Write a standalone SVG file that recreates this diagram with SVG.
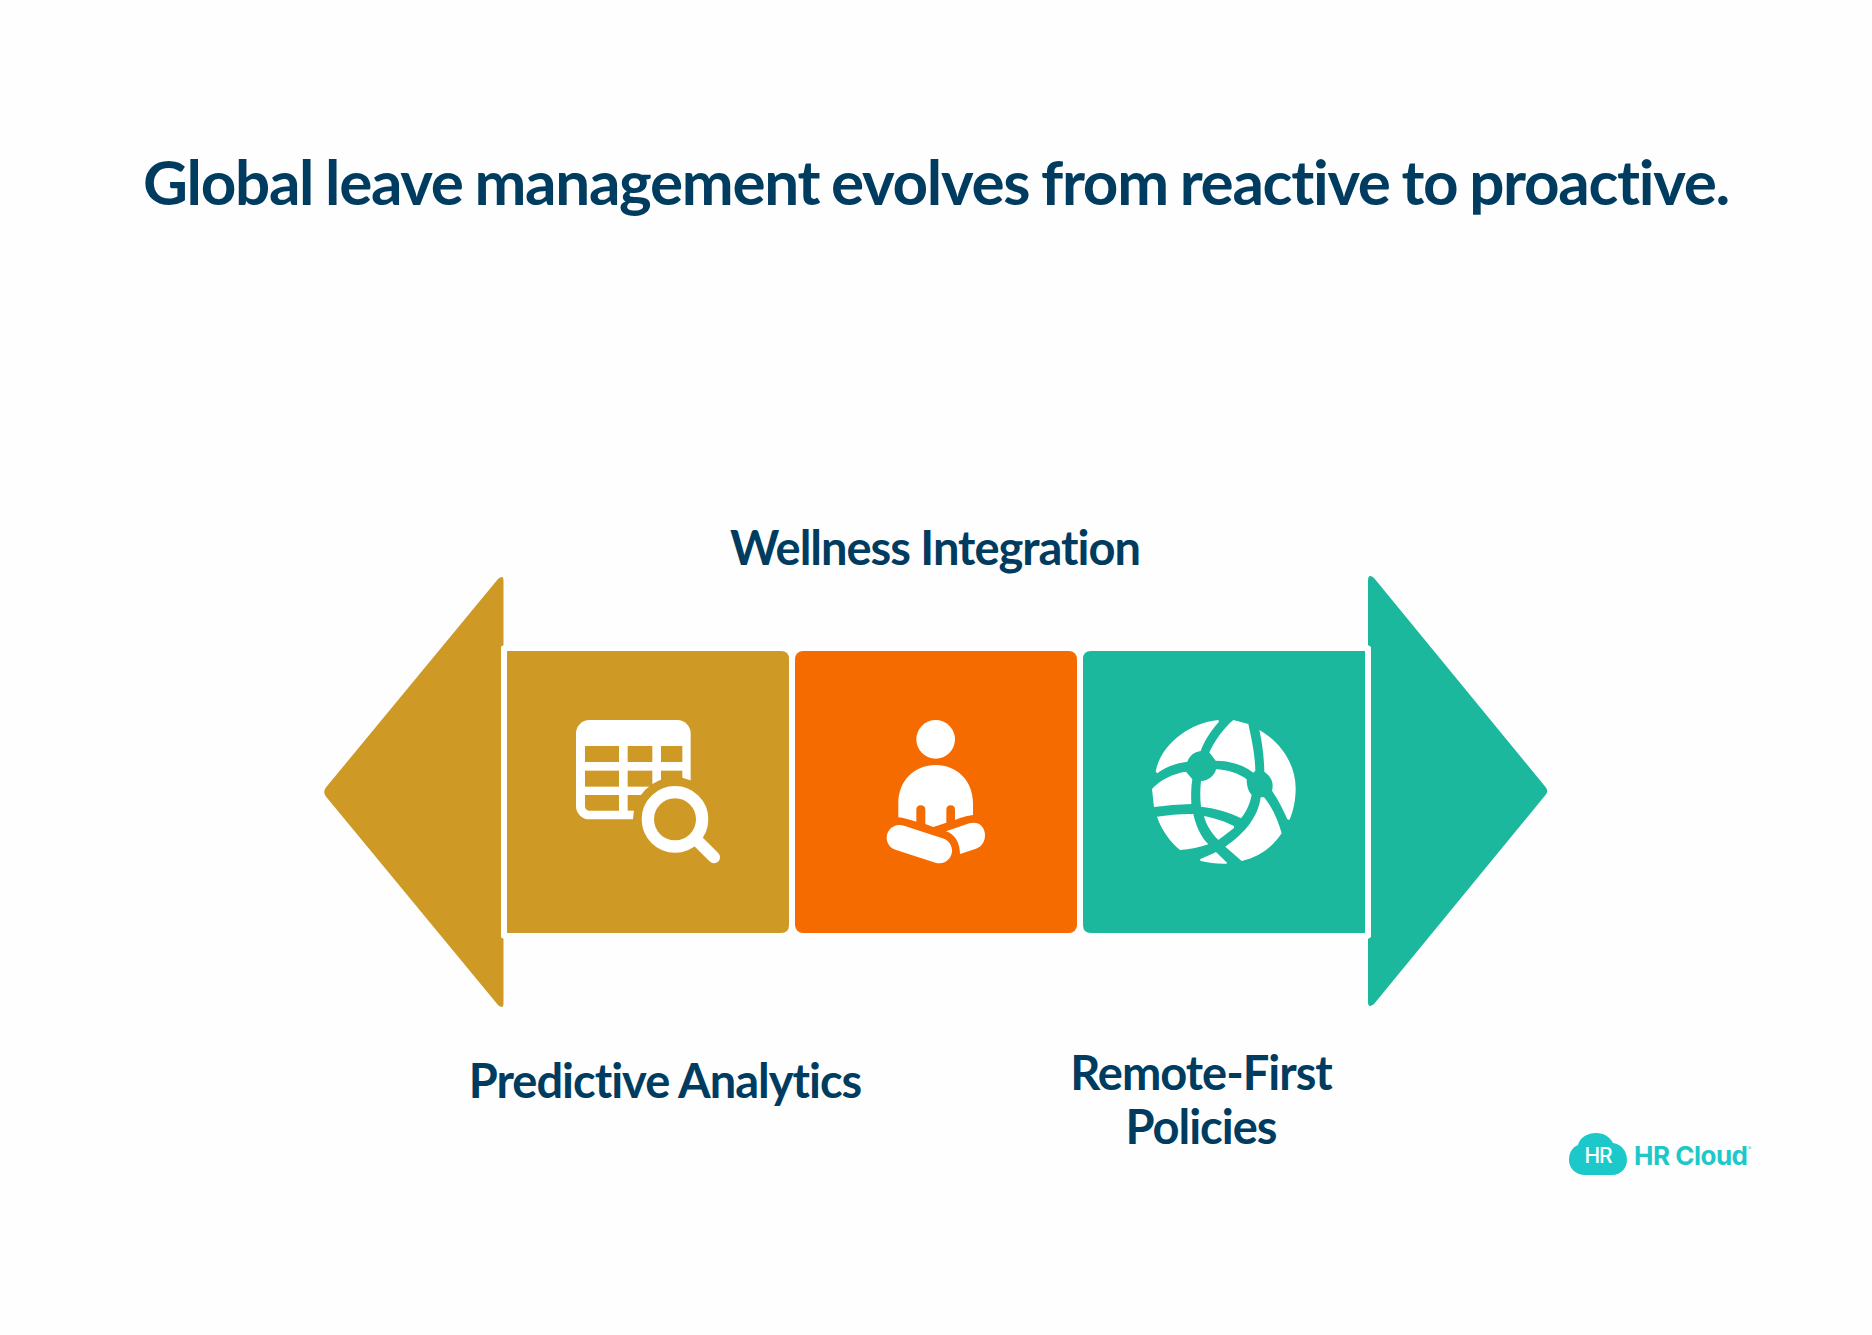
<svg xmlns="http://www.w3.org/2000/svg" width="1872" height="1335" viewBox="0 0 1872 1335">
<style>
.t{font-family:"Lato","Carlito","Liberation Sans",sans-serif;font-weight:700;fill:#003c5f;text-anchor:middle}
.lab{font-size:47px;letter-spacing:-1px}
.tan{fill:#ce9924}.org{fill:#f66b00}.tea{fill:#1cb89e}.w{fill:#fff}
</style>
<rect width="1872" height="1335" fill="#fefefe"/>
<g id="title"><text class="t" x="936" y="205" font-size="62" letter-spacing="-1.3" word-spacing="-1.9">Global leave management evolves from reactive to proactive.</text></g>
<g id="arrow-left">
<path class="tan" d="M325.500,788 L498,579 Q503.500,574 503.500,581 V645 L501,647 V937 L503.500,939 V1003 Q503.500,1010 498,1005 L325.500,796 Q323,792 325.500,788Z"/>
<rect class="w" x="501" y="646" width="6" height="292" rx="2"/>
</g>
<g id="node-predictive">
<path class="tan" d="M507,651 H781 Q789,651 789,659 V925 Q789,933 781,933 H507Z"/>
<g transform="translate(560,700) scale(.33333)">
<rect class="w" x="48" y="60" width="344" height="298" rx="40"/>
<g class="tan">
<rect x="75" y="138" width="102" height="48"/><rect x="203" y="138" width="74" height="48"/><rect x="303" y="138" width="64" height="48"/>
<rect x="75" y="212" width="102" height="48"/><rect x="203" y="212" width="74" height="48"/><rect x="303" y="212" width="64" height="48"/>
<path d="M75,285 H177 V332 H90 Q75,332 75,317Z"/><rect x="203" y="285" width="80" height="47"/>
<circle cx="345" cy="358" r="126"/></g>
<circle cx="345" cy="358" r="81.500" fill="none" stroke="#fff" stroke-width="37"/>
<line x1="415" y1="425" x2="462" y2="472" stroke="#fff" stroke-width="36" stroke-linecap="round"/>
</g>
</g>
<g id="node-wellness">
<rect class="org" x="795" y="651" width="282" height="282" rx="8"/>
<g transform="translate(870,700) scale(.33333)">
<ellipse class="w" cx="197" cy="118" rx="58" ry="58"/>
<path class="w" d="M85,352 V310 C85,240 135,195 197,195 C259,195 309,240 309,310 V345 C285,348 270,354 255,360 V330 Q255,316 242,316 Q229,316 229,330 V368 L190,381 L166,372 V330 Q166,316 152,316 Q139,316 139,330 V365 C120,360 100,353 85,352Z"/>
<line x1="88" y1="413" x2="208" y2="452" stroke="#fff" stroke-width="76" stroke-linecap="round"/>
<path class="w" d="M228,394 L298,370 C330,362 345,385 345,405 C345,425 335,440 318,446 L270,462 C270,430 255,402 228,394Z"/>
</g>
</g>
<g id="node-remote">
<path class="tea" d="M1091,651 H1365 V933 H1091 Q1083,933 1083,925 V659 Q1083,651 1091,651Z"/>
<g transform="translate(1130,700) scale(.33333)" class="w">
<path d="M77,215 C90,140 170,70 265,60 L267,65 C240,95 222,125 212,153 C195,155 180,165 172,185 C135,190 105,202 82,220Z"/>
<path d="M310,60 L355,72 C368,130 375,170 376,212 L370,218 C340,195 300,182 257,182 L238,157 C255,120 285,80 310,60Z"/>
<path d="M388,90 C450,125 497,190 497,265 C497,300 490,335 478,360 L472,358 C460,330 445,300 426,272 C432,250 425,230 403,215 C402,170 397,130 388,90Z"/>
<path d="M168,215 L187,238 C183,260 183,290 184,312 C145,313 110,316 72,321 L66,267 C90,240 130,220 168,215Z"/>
<path d="M258,208 C295,210 325,220 350,238 C350,258 355,275 365,285 C360,310 350,335 333,355 C295,335 255,325 213,320 C210,295 210,270 213,243 C235,243 255,225 258,208Z"/>
<path d="M392,292 L402,292 C430,325 445,365 455,400 C425,445 385,470 335,483 L286,440 C345,400 385,350 392,292Z"/>
<path d="M81,350 C115,345 155,341 190,342 C197,375 212,410 235,433 C210,442 180,448 150,450 C120,425 95,390 81,350Z"/>
<path d="M222,348 C250,353 285,365 312,378 L312,384 L265,420 C245,400 228,375 222,348Z"/>
<path d="M210,478 C225,470 242,464 258,456 L291,488 L290,491 C262,492 235,488 212,483Z"/>
</g>
</g>
<g id="arrow-right">
<path class="tea" d="M1368,581 Q1368,573 1374,578 L1545.500,787 Q1549,791 1545.500,795 L1374,1004 Q1368,1009 1368,1002 V939 L1371,937 V647 L1368,645Z"/>
</g>
<g id="labels">
<text class="t lab" x="935" y="565">Wellness Integration</text>
<text class="t lab" x="665" y="1098">Predictive Analytics</text>
<text class="t lab" x="1201" y="1090">Remote-First</text>
<text class="t lab" x="1201" y="1144">Policies</text>
</g>
<g id="logo">
<path fill="#1cc8c9" d="M1586,1175 C1574,1175 1569,1167 1569,1160 C1569,1152 1573,1147 1578,1145 C1580,1137 1588,1133 1596,1133 C1604,1133 1610,1137 1613,1143 C1622,1144 1627,1152 1627,1160 C1627,1168 1621,1175 1612,1175Z"/>
<text x="1598" y="1163" font-family="Inter,'Liberation Sans',sans-serif" font-size="21" font-weight="500" fill="#fff" text-anchor="middle" letter-spacing="-1">HR</text>
<text x="1634" y="1165" font-family="Inter,'Liberation Sans',sans-serif" font-size="26" font-weight="700" fill="#1cc8c9" letter-spacing="-.5">HR Cloud</text>
<text x="1748" y="1150" font-family="Inter,'Liberation Sans',sans-serif" font-size="5" fill="#1cc8c9">®</text>
</g>
</svg>
